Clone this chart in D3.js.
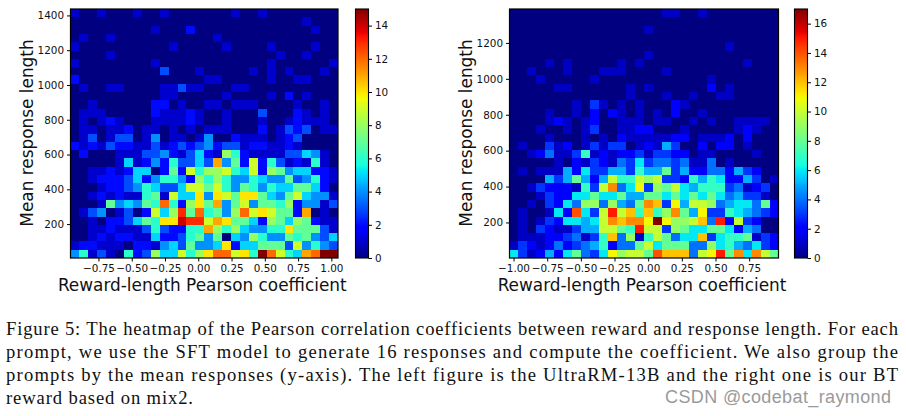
<!DOCTYPE html>
<html lang="en">
<head>
<meta charset="UTF-8">
<title>Figure 5</title>
<script src="https://d3js.org/d3.v7.min.js"></script>
<style>
html, body { margin: 0; padding: 0; background: #fff; }
svg { display: block; }
.tick text { font-family: "DejaVu Sans", sans-serif; font-size: 10.4px; fill: #111; }
.label { font-family: "DejaVu Sans", sans-serif; font-size: 16.9px; fill: #111; }
.caption { font-family: "Liberation Serif", serif; font-size: 18.6px; fill: #111; }
.mark { font-family: "Liberation Sans", sans-serif; font-size: 18px; fill: #9a9a9a; }
rect.cell, rect.step { shape-rendering: crispEdges; }
</style>
</head>
<body>
<svg id="chart" width="906" height="416"></svg>
<script>
// counts per cell, top row first (30 x 30)
var leftCounts = [
[1,0,0,1,0,0,0,1,0,0,1,0,0,0,0,0,0,0,1,0,0,1,0,0,0,0,0,0,0,0],
[0,0,0,0,0,0,0,0,0,0,0,0,0,0,0,0,0,0,0,0,0,0,0,0,0,0,1,0,0,0],
[0,0,0,0,0,0,0,0,0,1,0,0,0,2,0,0,0,0,0,0,0,0,0,0,0,0,0,1,0,0],
[0,1,0,0,1,0,0,0,0,0,0,0,0,0,0,0,1,0,0,0,0,0,0,0,0,0,0,0,0,0],
[1,0,0,0,0,0,0,0,0,0,0,1,0,0,0,0,0,1,0,0,0,0,1,0,0,0,0,1,0,0],
[0,0,0,0,1,0,0,0,0,0,0,0,0,0,0,0,0,0,0,0,0,0,0,1,0,0,1,0,0,0],
[1,0,0,0,0,0,0,0,0,1,0,0,0,0,0,0,0,0,0,0,0,0,1,0,0,0,0,0,0,1],
[0,0,0,0,0,0,0,0,0,0,3,0,0,0,1,0,0,0,0,0,1,0,1,0,1,0,0,0,1,0],
[2,0,0,0,0,0,0,0,0,0,0,0,0,0,0,1,1,0,0,0,0,0,1,0,0,1,1,0,0,0],
[0,1,0,0,1,1,0,0,0,0,1,1,3,1,1,0,0,0,1,1,0,0,0,0,0,0,0,0,0,0],
[0,0,0,0,0,0,0,0,0,0,1,1,0,0,0,0,0,1,0,0,0,0,1,0,2,0,1,0,0,0],
[0,0,1,0,0,0,0,0,0,2,2,0,1,0,0,1,1,0,1,1,1,0,0,0,0,1,0,0,1,0],
[0,1,1,1,0,0,0,0,0,2,1,1,1,2,1,0,0,1,0,0,0,3,0,0,0,2,1,0,1,0],
[0,1,0,1,2,1,0,0,0,1,1,1,1,2,1,0,0,1,0,0,0,1,0,0,1,2,1,1,1,0],
[0,1,1,0,1,1,2,0,1,1,0,1,0,1,0,1,1,1,0,0,0,2,0,1,3,2,3,0,1,1],
[0,1,3,0,1,3,3,0,1,4,0,1,1,0,1,4,0,0,2,1,1,1,0,1,2,3,0,0,0,0],
[2,1,2,1,3,2,2,1,1,3,1,2,3,2,3,4,2,3,3,1,2,2,1,1,2,1,0,0,0,0],
[0,2,0,0,0,1,1,1,3,3,4,2,1,3,5,2,1,8,6,2,1,1,1,1,3,3,5,4,1,0],
[0,0,0,0,0,1,5,1,2,4,2,6,3,3,5,3,11,4,7,2,9,2,6,3,1,2,1,6,1,0],
[0,0,1,1,2,1,2,5,5,0,2,7,2,9,6,8,8,9,6,5,9,2,8,7,4,5,5,2,2,1],
[0,0,1,2,2,2,3,5,2,4,6,6,4,2,8,6,8,6,4,4,6,5,4,4,7,3,4,6,2,1],
[0,0,0,1,2,2,3,4,6,5,3,3,5,9,9,7,9,6,4,7,6,4,6,5,5,7,7,5,2,0],
[0,0,1,2,1,2,1,1,6,7,1,9,5,5,10,4,10,9,7,10,10,7,5,4,7,9,5,4,4,1],
[0,0,0,1,7,4,5,4,7,6,12,6,2,8,10,7,11,4,7,9,4,7,7,6,8,2,4,4,1,3],
[0,1,3,4,0,1,3,0,2,9,5,8,13,7,12,6,7,4,8,12,9,10,9,7,7,2,11,0,1,0],
[0,0,1,0,2,2,3,5,7,6,10,10,14,13,13,9,11,10,7,7,5,2,8,7,5,8,7,2,1,1],
[0,0,1,1,2,1,1,1,3,6,3,2,2,6,6,11,8,6,8,5,4,4,6,6,10,7,7,7,3,1],
[0,0,1,2,1,2,2,1,1,5,2,2,3,6,7,4,7,0,5,4,8,6,4,4,7,6,7,4,3,5],
[1,2,2,1,1,1,0,2,2,1,4,5,3,7,4,4,5,10,2,5,5,7,7,7,3,9,4,6,4,3],
[4,6,1,3,1,0,6,2,3,8,5,5,9,6,8,10,12,12,9,10,6,15,12,9,6,5,11,12,15,15]
];

var rightCounts = [
[0,0,0,0,0,0,0,0,0,0,0,0,0,0,0,0,0,1,1,0,0,1,0,0,0,0,0,0,0,0],
[0,0,0,0,0,0,0,0,0,0,0,0,0,0,0,0,0,0,0,0,0,0,0,0,0,0,0,0,0,0],
[0,0,0,0,0,0,0,0,0,0,0,0,0,0,0,1,0,0,0,0,0,0,0,0,0,0,0,0,0,0],
[0,0,0,0,0,0,0,0,0,0,0,0,0,0,0,0,0,0,0,0,0,0,0,0,0,0,0,0,0,0],
[0,0,0,0,0,0,0,0,0,0,0,0,0,0,0,0,0,0,0,0,0,0,0,0,1,0,0,0,0,0],
[0,0,0,0,0,0,0,0,0,0,0,0,0,0,0,1,0,0,0,0,0,0,0,0,0,0,0,0,0,0],
[0,0,0,0,1,0,1,0,0,0,0,0,1,0,1,0,0,0,0,0,0,0,0,0,0,0,1,0,0,0],
[0,0,1,0,0,0,1,0,0,0,1,1,1,0,0,0,0,1,0,0,0,0,0,0,0,0,0,0,0,0],
[0,0,0,1,0,0,0,0,0,1,0,0,0,0,0,0,0,0,0,0,0,0,1,0,0,0,0,0,0,0],
[0,0,0,0,0,1,1,0,0,0,0,0,0,1,0,1,0,0,0,0,0,0,2,0,1,0,0,0,0,0],
[0,0,0,0,0,0,0,0,0,0,0,0,0,1,0,0,0,1,0,0,1,0,0,1,1,0,0,0,0,0],
[0,0,0,0,0,0,0,1,0,3,1,0,1,0,1,0,0,0,2,1,0,0,0,0,0,0,0,0,0,0],
[0,0,0,0,1,0,0,1,0,2,0,2,1,0,1,0,1,0,2,0,0,1,0,0,0,0,0,0,0,0],
[0,0,0,0,1,2,1,0,1,2,0,0,1,1,1,0,1,1,0,0,1,0,1,0,0,1,1,1,1,0],
[0,0,0,1,0,0,1,0,1,3,0,0,1,1,2,2,0,0,0,1,0,0,0,0,0,1,2,1,0,0],
[0,0,0,0,1,0,0,0,1,0,1,0,2,1,1,1,1,1,2,2,0,1,1,1,2,0,2,0,0,0],
[0,1,0,0,3,1,2,0,1,3,1,3,3,0,1,2,1,5,3,0,0,2,0,2,2,0,1,0,0,0],
[0,0,1,2,4,1,1,3,7,1,2,1,2,2,3,1,3,3,2,2,0,1,1,0,0,0,0,1,0,0],
[0,0,0,0,0,1,0,2,1,3,2,1,4,3,6,3,4,4,3,4,1,1,4,0,1,0,0,0,0,0],
[0,1,0,1,1,1,5,2,6,3,3,5,5,3,7,5,5,8,3,5,2,2,4,4,2,5,3,2,0,0],
[0,0,0,0,5,3,5,8,5,2,5,10,7,7,10,9,10,3,3,2,7,5,7,6,2,2,5,3,0,1],
[0,0,1,3,2,2,2,1,7,3,10,13,4,6,11,3,9,8,10,6,5,7,7,7,3,4,1,2,3,0],
[0,0,0,1,3,2,2,6,6,8,6,6,8,5,5,8,8,6,8,6,8,6,8,6,4,5,3,3,1,0],
[0,0,1,0,3,2,6,4,9,9,4,9,5,4,8,13,12,3,11,5,10,10,9,4,5,6,6,4,8,2],
[0,1,0,0,1,6,2,14,6,3,10,15,10,12,7,12,7,9,13,8,5,11,3,3,7,6,5,4,3,2],
[0,1,0,1,3,2,6,6,5,6,10,13,12,13,13,11,17,11,9,9,10,12,4,15,2,10,3,2,0,0],
[0,1,0,3,2,1,1,3,5,5,10,10,8,7,15,10,10,3,9,8,6,6,8,8,6,2,5,4,0,0],
[0,1,1,1,2,2,3,4,1,3,7,12,4,9,1,7,10,8,4,6,6,12,3,6,7,7,8,1,3,2],
[1,3,2,1,2,4,2,3,4,5,7,2,4,4,8,10,6,8,8,8,4,4,9,6,7,5,4,6,3,2],
[6,3,1,2,5,2,6,8,4,3,6,11,9,10,10,8,14,12,12,12,4,10,11,15,8,13,6,13,10,8]
];

var leftXTicks = [-0.75, -0.5, -0.25, 0, 0.25, 0.5, 0.75, 1];
var leftYTicks = [200, 400, 600, 800, 1000, 1200, 1400];
var leftBarTicks = [0, 2, 4, 6, 8, 10, 12, 14];
var rightXTicks = [-1, -0.75, -0.5, -0.25, 0, 0.25, 0.5, 0.75];
var rightYTicks = [200, 400, 600, 800, 1000, 1200];
var rightBarTicks = [0, 2, 4, 6, 8, 10, 12, 14, 16];

var captionLines = [
  "Figure 5: The heatmap of the Pearson correlation coefficients between reward and response length. For each",
  "prompt, we use the SFT model to generate 16 responses and compute the coefficient. We also group the",
  "prompts by the mean responses (y-axis). The left figure is the UltraRM-13B and the right one is our BT",
  "reward based on mix2."
];

// matplotlib jet
var jetR = d3.scaleLinear().domain([0, 0.35, 0.66, 0.89, 1]).range([0, 0, 1, 1, 0.5]);
var jetG = d3.scaleLinear().domain([0, 0.125, 0.375, 0.64, 0.91, 1]).range([0, 0, 1, 1, 0, 0]);
var jetB = d3.scaleLinear().domain([0, 0.11, 0.34, 0.65, 1]).range([0.5, 1, 1, 0, 0]);
function jet(t) {
  return d3.rgb(jetR(t) * 255, jetG(t) * 255, jetB(t) * 255).toString();
}

var svg = d3.select("#chart");

function drawPanel(counts, opt) {
  var g = svg.append("g");
  var x = d3.scaleLinear().domain(opt.xDomain).range([opt.left, opt.right]);
  var y = d3.scaleLinear().domain(opt.yDomain).range([opt.bottom, opt.top]);
  var nRows = counts.length, nCols = counts[0].length;
  var colW = (opt.xDomain[1] - opt.xDomain[0]) / nCols;
  var rowH = (opt.yDomain[1] - opt.yDomain[0]) / nRows;
  var color = function(v) { return jet(v / opt.vmax); };

  var cells = [];
  counts.forEach(function(row, r) {
    row.forEach(function(v, c) { cells.push({ r: r, c: c, v: v }); });
  });
  g.selectAll("rect.cell").data(cells).enter().append("rect")
    .attr("class", "cell")
    .attr("x", function(d) { return x(opt.xDomain[0] + d.c * colW); })
    .attr("y", function(d) { return y(opt.yDomain[1] - d.r * rowH); })
    .attr("width", x(opt.xDomain[0] + colW) - x(opt.xDomain[0]))
    .attr("height", y(opt.yDomain[0]) - y(opt.yDomain[0] + rowH))
    .attr("fill", function(d) { return color(d.v); });

  g.append("rect")
    .attr("x", opt.left).attr("y", opt.top)
    .attr("width", opt.right - opt.left).attr("height", opt.bottom - opt.top)
    .attr("fill", "none").attr("stroke", "#000").attr("stroke-width", 1.2);

  var xAxis = d3.axisBottom(x).tickValues(opt.xTicks).tickSizeOuter(0).tickSize(3.5)
    .tickFormat(function(d) { return d3.format(".2f")(d).replace("-", "\u2212"); });
  g.append("g").attr("transform", "translate(0," + opt.bottom + ")").call(xAxis)
    .call(function(s) { s.select(".domain").remove(); });

  var yAxis = d3.axisLeft(y).tickValues(opt.yTicks).tickSizeOuter(0).tickSize(3.5).tickFormat(d3.format("d"));
  g.append("g").attr("transform", "translate(" + opt.left + ",0)").call(yAxis)
    .call(function(s) { s.select(".domain").remove(); });

  g.append("text").attr("class", "label")
    .attr("x", (opt.left + opt.right) / 2 - 2).attr("y", opt.bottom + 32.5)
    .attr("text-anchor", "middle")
    .text("Reward-length Pearson coefficient");
  g.append("text").attr("class", "label")
    .attr("transform", "translate(" + opt.yLabelX + "," + ((opt.top + opt.bottom) / 2 - 0.5) + ") rotate(-90)")
    .attr("text-anchor", "middle")
    .text("Mean response length");

  // colorbar
  var bar = d3.scaleLinear().domain([0, opt.vmax]).range([opt.bottom, opt.top]);
  var steps = d3.range(0, 256);
  g.selectAll("rect.step").data(steps).enter().append("rect")
    .attr("class", "step")
    .attr("x", opt.barLeft)
    .attr("y", function(d) { return bar((d + 1) / 256 * opt.vmax); })
    .attr("width", opt.barRight - opt.barLeft)
    .attr("height", (opt.bottom - opt.top) / 256 + 0.4)
    .attr("fill", function(d) { return jet((d + 0.5) / 256); });
  g.append("rect")
    .attr("x", opt.barLeft).attr("y", opt.top)
    .attr("width", opt.barRight - opt.barLeft).attr("height", opt.bottom - opt.top)
    .attr("fill", "none").attr("stroke", "#000").attr("stroke-width", 1.1);
  var barAxis = d3.axisRight(bar).tickValues(opt.barTicks).tickSizeOuter(0).tickSize(3.5).tickFormat(d3.format("d"));
  g.append("g").attr("transform", "translate(" + opt.barRight + ",0)").call(barAxis)
    .call(function(s) { s.select(".domain").remove(); });
}

drawPanel(leftCounts, {
  xDomain: [-0.96, 1.05], yDomain: [5, 1437],
  left: 70.5, right: 338, top: 9, bottom: 258,
  xTicks: leftXTicks, yTicks: leftYTicks, barTicks: leftBarTicks, vmax: 15,
  yLabelX: 33, barLeft: 355.5, barRight: 368.5
});

drawPanel(rightCounts, {
  xDomain: [-1.03, 0.968], yDomain: [2, 1389],
  left: 509.5, right: 778.5, top: 9, bottom: 258,
  xTicks: rightXTicks, yTicks: rightYTicks, barTicks: rightBarTicks, vmax: 17,
  yLabelX: 472, barLeft: 794.5, barRight: 807.5
});

// caption, justified to the page width like the original
var captionY = d3.scalePoint().domain(d3.range(captionLines.length)).range([335, 404]);
svg.selectAll("text.caption").data(captionLines).enter().append("text")
  .attr("class", "caption")
  .attr("x", 6)
  .attr("y", function(d, i) { return captionY(i); })
  .attr("textLength", function(d, i) { return i < 3 ? 892 : 187; })
  .attr("lengthAdjust", "spacing")
  .text(function(d) { return d; });

svg.append("text").attr("class", "mark")
  .attr("x", 665).attr("y", 403)
  .attr("textLength", 226)
  .text("CSDN @codebat_raymond");
</script>
</body>
</html>
